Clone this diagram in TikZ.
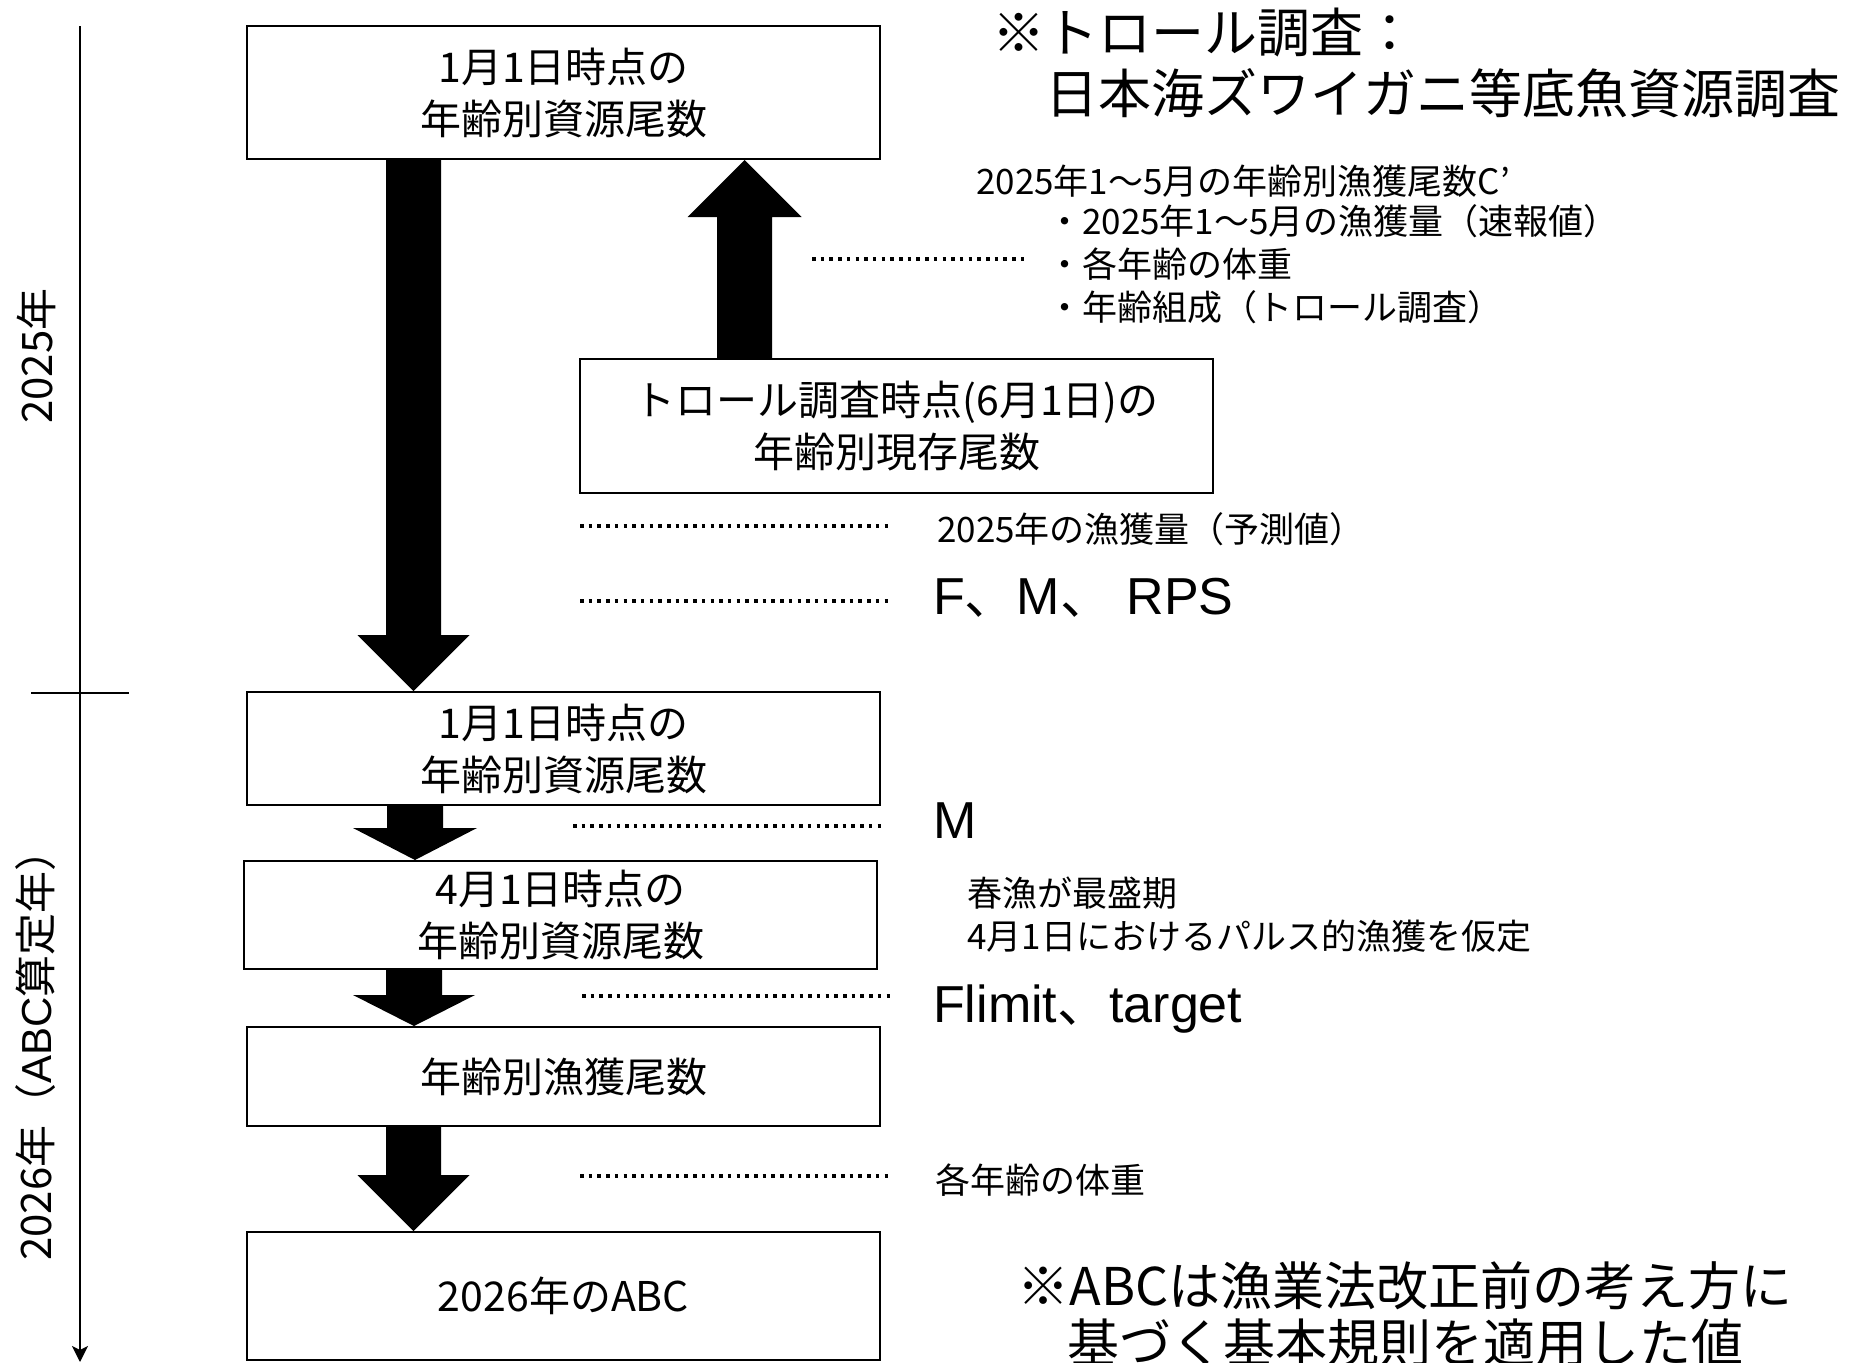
\documentclass[tikz,border=0pt]{standalone}
\usepackage{fontspec}
\setmainfont{Noto Sans CJK JP}
\newfontfamily\lat{Liberation Sans}
\usetikzlibrary{calc,arrows.meta}
\newcommand\fatarrow[6]{%
  \fill[black] let \p1=(#1), \p2=(#2) in
    (#3-#4,\y1) -- (#3-#4,\y2+#6) -- (#3-#5,\y2+#6) -- (#3,\y2) --
    (#3+#5,\y2+#6) -- (#3+#4,\y2+#6) -- (#3+#4,\y1) -- cycle;}
\tikzset{
  stagebox/.style={draw, line width=2pt, minimum width=633pt, inner sep=0pt,
    align=center, font=\fontsize{41}{52}\selectfont},
  small/.style={inner sep=0pt, font=\fontsize{35}{43}\selectfont},
  big/.style={inner sep=0pt, font=\fontsize{52}{60}\selectfont},
  sidelabel/.style={inner sep=0pt, rotate=90, font=\fontsize{42}{48}\selectfont},
  dotline/.style={line width=3.5pt, dash pattern=on 3.5pt off 5.2pt},
  timeline/.style={line width=2.5pt},
}
\begin{document}
\begin{tikzpicture}[x=1pt,y=-1pt]
\clip (0,0) rectangle (1856,1363);
\fill[white] (0,0) rectangle (1856,1363);

% timeline
\coordinate (ttop) at (80,26);
\coordinate (tbot) at (80,1362);
\coordinate (tickl) at (31,693);
\coordinate (tickr) at (129,693);
\draw[timeline,-{Stealth[length=16pt,width=16pt,inset=4pt]}] (ttop) -- (tbot);
\draw[timeline] (tickl) -- (tickr);
\node[sidelabel] (y2025) at (36,356) {2025年};
\node[sidelabel] (y2026) at (36,1045) {2026年（{\lat ABC}算定年）};

% boxes
\node[stagebox, minimum height=133pt] (b1) at (563.5,92.5) {1月1日時点の\\年齢別資源尾数};
\node[stagebox, minimum height=134pt] (b2) at (896.5,426) {トロール調査時点(6月1日)の\\年齢別現存尾数};
\node[stagebox, minimum height=113pt] (b3) at (563.5,748.5) {1月1日時点の\\年齢別資源尾数};
\node[stagebox, minimum height=108pt] (b4) at (560.5,915) {4月1日時点の\\年齢別資源尾数};
\node[stagebox, minimum height=99pt] (b5) at (563.5,1076.5) {年齢別漁獲尾数};
\node[stagebox, minimum height=128pt] (b6) at (563.5,1296) {2026年のABC};

% fat arrows
\fatarrow{b1.south}{b3.north}{413.5}{27.5}{56}{56pt}
\fatarrow{b2.north}{b1.south}{744.5}{27.5}{57}{-57pt}
\fatarrow{b3.south}{b4.north}{415}{28}{62}{32pt}
\fatarrow{b4.south}{b5.north}{414}{28}{61}{31pt}
\fatarrow{b5.south}{b6.north}{413.5}{27.5}{56}{56pt}

% title
\node[big, font=\fontsize{53}{61}\selectfont, anchor=west, align=left] (title) at (992,63.5)
  {※トロール調査：\\　日本海ズワイガニ等底魚資源調査};

% info texts
\node[small, anchor=west] (info1) at (976,181) {2025年1～5月の年齢別漁獲尾数C’};
\node[small, anchor=west, align=left] (info2) at (1047,264)
  {・2025年1～5月の漁獲量（速報値）\\・各年齢の体重\\・年齢組成（トロール調査）};
\node[small, anchor=west] (pred) at (937,529) {2025年の漁獲量（予測値）};
\node[big, anchor=base west] (fmr) at (933,614.5) {{\lat F}、{\lat M}、{\lat\ RPS}};
\node[big, anchor=base west] (mm) at (933,838) {{\lat M}};
\node[small, anchor=west, align=left] (spring) at (967,914.5)
  {春漁が最盛期\\4月1日におけるパルス的漁獲を仮定};
\node[big, anchor=base west] (flim) at (933,1022) {{\lat Flimit}、{\lat target}};
\node[small, anchor=west] (wt) at (935,1180) {各年齢の体重};
\node[big, align=center, font=\fontsize{52}{57}\selectfont] (note) at (1405,1314)
  {※ABCは漁業法改正前の考え方に\\基づく基本規則を適用した値};

% dotted leaders
\coordinate (d0) at (812,259);
\coordinate (d1) at (580,526);
\coordinate (d2) at (580,601);
\coordinate (d3) at (573,826);
\coordinate (d4) at (582,996);
\coordinate (d5) at (580,1176);
\draw[dotline] (d0) -- ++(215,0);
\draw[dotline] (d1) -- ++(312,0);
\draw[dotline] (d2) -- ++(312,0);
\draw[dotline] (d3) -- ++(313,0);
\draw[dotline] (d4) -- ++(311,0);
\draw[dotline] (d5) -- ++(312,0);
\end{tikzpicture}
\end{document}
